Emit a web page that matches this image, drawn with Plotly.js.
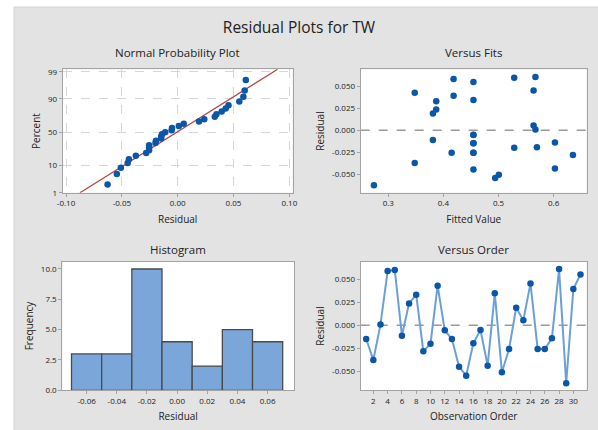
<!DOCTYPE html>
<html>
<head>
<meta charset="utf-8">
<script src="https://cdn.plot.ly/plotly-3.0.1.min.js"></script>
<style>html,body{margin:0;padding:0;background:#fff;}#chart{width:598px;height:430px;}</style>
</head>
<body>
<div id="chart"></div>
<script>
// ---- data ----
const observation = [1,2,3,4,5,6,7,8,9,10,11,12,13,14,15,16,17,18,19,20,21,22,23,24,25,26,27,28,29,30,31];
const residuals = [-0.0148,-0.0375,0.0010,0.0588,0.0600,-0.0112,0.0238,0.0332,-0.0282,-0.0199,
                   0.0430,-0.0054,-0.0148,-0.0448,-0.0545,-0.0195,-0.0051,-0.0437,0.0347,-0.0509,
                   -0.0256,0.0191,0.0054,0.0455,-0.0256,-0.0256,-0.0141,0.0610,-0.0628,0.0394,0.0552];
const fittedValues = [0.4545,0.348,0.567,0.4185,0.5285,0.381,0.387,0.387,0.635,0.5285,
                      0.348,0.4545,0.4545,0.4545,0.494,0.5697,0.4545,0.6024,0.4545,0.5006,
                      0.415,0.381,0.5636,0.5636,0.4545,0.4545,0.6024,0.567,0.274,0.4185,0.4545];
const percentTicks = [1,10,50,90,99];
const percentTickText = ["1","10","50","90","99"];
const npXTicks = [-0.10,-0.05,0.00,0.05,0.10];
const npXTickText = ["-0.10","-0.05","0.00","0.05","0.10"];
const residTicks = [-0.050,-0.025,0.000,0.025,0.050];
const residTickText = ["-0.050","-0.025","0.000","0.025","0.050"];
const fitTicks = [0.3,0.4,0.5,0.6];
const fitTickText = ["0.3","0.4","0.5","0.6"];
const histXTicks = [-0.06,-0.04,-0.02,0.00,0.02,0.04,0.06];
const histXTickText = ["-0.06","-0.04","-0.02","0.00","0.02","0.04","0.06"];
const freqTicks = [0,2.5,5,7.5,10];
const freqTickText = ["0.0","2.5","5.0","7.5","10.0"];
const orderTicks = [2,4,6,8,10,12,14,16,18,20,22,24,26,28,30];

// ---- normal probability scale (inverse normal CDF, Acklam) ----
function invNorm(p){
  const a=[-3.969683028665376e+01,2.209460984245205e+02,-2.759285104469687e+02,1.383577518672690e+02,-3.066479806614716e+01,2.506628277459239e+00];
  const b=[-5.447609879822406e+01,1.615858368580409e+02,-1.556989798598866e+02,6.680131188771972e+01,-1.328068155288572e+01];
  const c=[-7.784894002430293e-03,-3.223964580411365e-01,-2.400758277161838e+00,-2.549732539343734e+00,4.374664141464968e+00,2.938163982698783e+00];
  const d=[7.784695709041462e-03,3.224671290700398e-01,2.445134137142996e+00,3.754408661907416e+00];
  const pl=0.02425, ph=1-pl; let q,r;
  if(p<pl){q=Math.sqrt(-2*Math.log(p));return (((((c[0]*q+c[1])*q+c[2])*q+c[3])*q+c[4])*q+c[5])/((((d[0]*q+d[1])*q+d[2])*q+d[3])*q+1);}
  if(p>ph){q=Math.sqrt(-2*Math.log(1-p));return -(((((c[0]*q+c[1])*q+c[2])*q+c[3])*q+c[4])*q+c[5])/((((d[0]*q+d[1])*q+d[2])*q+d[3])*q+1);}
  q=p-0.5;r=q*q;return (((((a[0]*r+a[1])*r+a[2])*r+a[3])*r+a[4])*r+a[5])*q/(((((b[0]*r+b[1])*r+b[2])*r+b[3])*r+b[4])*r+1);
}
const n = residuals.length;
const sortedRes = residuals.slice().sort((a,b)=>a-b);
const npZ = sortedRes.map((v,i)=>invNorm((i+1-0.3)/(n+0.4)));      // median ranks
const npPct = npZ.map((z,i)=>((i+1-0.3)/(n+0.4)*100).toFixed(1));
const mean = residuals.reduce((s,v)=>s+v,0)/n;
const sd = Math.sqrt(residuals.reduce((s,v)=>s+(v-mean)*(v-mean),0)/(n-1));
const zLo = invNorm(0.01), zHi = 2.42;
const lineZ = [zLo, zHi];
const lineX = lineZ.map(z=>mean+sd*z);

// ---- layout helpers ----
const W=598,H=430;
const px=x=>x/W, py=y=>1-y/H;
const FONT='Open Sans, Noto Sans, sans-serif';
const blue='#0a56a8', frame='#a3a3a3', gridc='#d6d6d6';
const tickFont={family:FONT,size:8,color:'#222'};
const titleFont={family:FONT,size:10,color:'#222'};
function ax(extra){
  return Object.assign({showline:true,mirror:true,linecolor:frame,linewidth:1,ticks:'outside',ticklen:3,
    tickcolor:frame,tickfont:tickFont,zeroline:false,showgrid:false,fixedrange:true,automargin:false},extra);
}

const traces = [
  {type:'scatter',mode:'lines',x:lineX,y:lineZ,xaxis:'x',yaxis:'y',line:{color:'#b5423d',width:1.3},hoverinfo:'skip',cliponaxis:true},
  {type:'scatter',mode:'markers',x:sortedRes,y:npZ,text:npPct,xaxis:'x',yaxis:'y',marker:{color:blue,size:6.5}},
  {type:'scatter',mode:'markers',x:fittedValues,y:residuals,xaxis:'x2',yaxis:'y2',marker:{color:blue,size:6.5}},
  {type:'histogram',x:residuals,xbins:{start:-0.07,end:0.07,size:0.02},autobinx:false,xaxis:'x3',yaxis:'y3',
   marker:{color:'#7ba6da',line:{color:'#4a4a4a',width:1.3}}},
  {type:'scatter',mode:'lines+markers',x:observation,y:residuals,xaxis:'x4',yaxis:'y4',
   line:{color:'#6b9fd9',width:2},marker:{color:blue,size:6.5}}
];

const layout = {
  width:W,height:H,margin:{l:0,r:0,t:0,b:0},
  paper_bgcolor:'#e3e3e3',plot_bgcolor:'#ffffff',showlegend:false,bargap:0,
  font:{family:FONT,color:'#222'},
  title:{text:'Residual Plots for TW',font:{family:FONT,size:15.5,color:'#222'},x:0.5,xanchor:'center',y:py(28),yanchor:'middle',yref:'paper'},
  xaxis: ax({domain:[px(62.7),px(292.7)],anchor:'y',range:[-0.103,0.103],tickvals:npXTicks,ticktext:npXTickText,
     showgrid:true,gridcolor:gridc,griddash:'dash',gridwidth:1,title:{text:'Residual',font:titleFont,standoff:8}}),
  yaxis: ax({domain:[py(192.7),py(69.3)],anchor:'x',range:[zLo,zHi],tickvals:percentTicks.map(p=>invNorm(p/100)),ticktext:percentTickText,
     showgrid:true,gridcolor:gridc,griddash:'dash',gridwidth:1,title:{text:'Percent',font:titleFont,standoff:5}}),
  xaxis2: ax({domain:[px(360.7),px(586.7)],anchor:'y2',range:[0.25,0.66],tickvals:fitTicks,ticktext:fitTickText,
     title:{text:'Fitted Value',font:titleFont,standoff:8}}),
  yaxis2: ax({domain:[py(192.7),py(69.3)],anchor:'x2',range:[-0.0714,0.0698],tickvals:residTicks,ticktext:residTickText,
     title:{text:'Residual',font:titleFont,standoff:5}}),
  xaxis3: ax({domain:[px(62.3),px(294)],anchor:'y3',range:[-0.0761,0.0775],tickvals:histXTicks,ticktext:histXTickText,
     title:{text:'Residual',font:titleFont,standoff:8}}),
  yaxis3: ax({domain:[py(390.3),py(261.7)],anchor:'x3',range:[0,10.6],tickvals:freqTicks,ticktext:freqTickText,
     title:{text:'Frequency',font:titleFont,standoff:5}}),
  xaxis4: ax({domain:[px(360.7),px(586.7)],anchor:'y4',range:[0.23,31.87],tickvals:orderTicks,
     title:{text:'Observation Order',font:titleFont,standoff:8}}),
  yaxis4: ax({domain:[py(390.3),py(261.7)],anchor:'x4',range:[-0.0704,0.069],tickvals:residTicks,ticktext:residTickText,
     title:{text:'Residual',font:titleFont,standoff:5}}),
  shapes:[
    {type:'rect',xref:'paper',yref:'paper',x0:0,x1:px(14),y0:0,y1:1,fillcolor:'#ffffff',line:{width:0},layer:'below'},
    {type:'rect',xref:'paper',yref:'paper',x0:0,x1:1,y0:py(7),y1:1,fillcolor:'#ffffff',line:{width:0},layer:'below'},
    {type:'line',xref:'paper',yref:'paper',x0:px(14),x1:px(14),y0:0,y1:py(7),line:{color:'#d2d2d2',width:1},layer:'below'},
    {type:'line',xref:'paper',yref:'paper',x0:px(14),x1:1,y0:py(7),y1:py(7),line:{color:'#d2d2d2',width:1},layer:'below'},
    {type:'line',xref:'x2 domain',yref:'y2',x0:0,x1:1,y0:0,y1:0,line:{color:'#9a9a9a',width:1.5,dash:'dash'},layer:'below'},
    {type:'line',xref:'x4 domain',yref:'y4',x0:0,x1:1,y0:0,y1:0,line:{color:'#9a9a9a',width:1.5,dash:'dash'},layer:'below'}
  ],
  annotations:[
    {text:'Normal Probability Plot',xref:'paper',yref:'paper',x:px(177.7),y:py(52.5),xanchor:'center',yanchor:'middle',showarrow:false,font:{family:FONT,size:11.5,color:'#222'}},
    {text:'Versus Fits',xref:'paper',yref:'paper',x:px(473.7),y:py(52.5),xanchor:'center',yanchor:'middle',showarrow:false,font:{family:FONT,size:11.5,color:'#222'}},
    {text:'Histogram',xref:'paper',yref:'paper',x:px(178),y:py(249.5),xanchor:'center',yanchor:'middle',showarrow:false,font:{family:FONT,size:11.5,color:'#222'}},
    {text:'Versus Order',xref:'paper',yref:'paper',x:px(473.7),y:py(249.5),xanchor:'center',yanchor:'middle',showarrow:false,font:{family:FONT,size:11.5,color:'#222'}}
  ]
};

Plotly.newPlot('chart',traces,layout,{displayModeBar:false,staticPlot:true});
</script>
</body>
</html>
